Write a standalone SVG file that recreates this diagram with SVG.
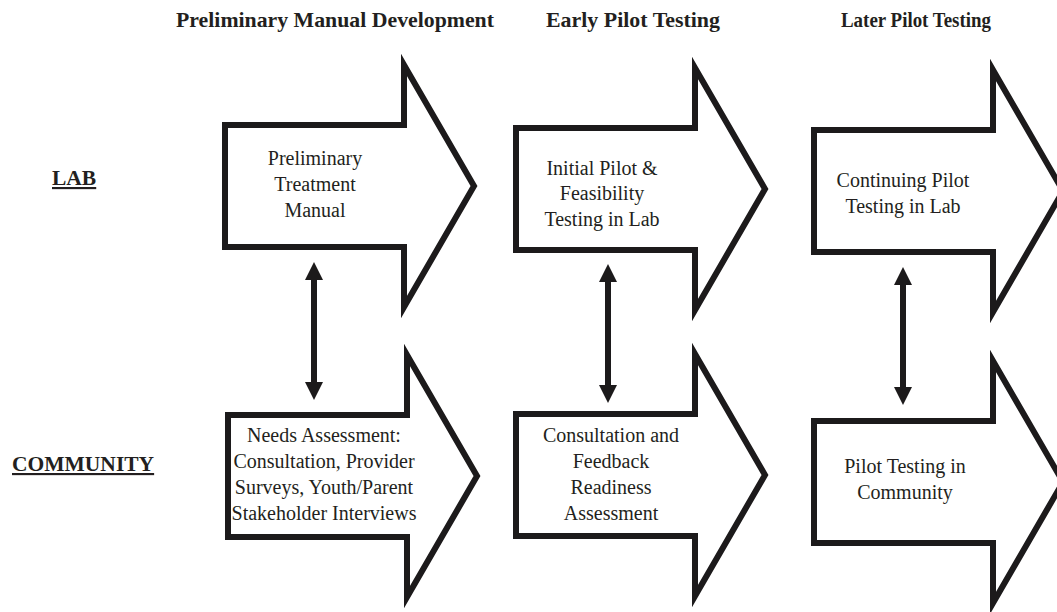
<svg xmlns="http://www.w3.org/2000/svg" width="1057" height="612" viewBox="0 0 1057 612">
<defs>
<style>
.bg{fill:#ffffff}
.arrow{fill:#ffffff;stroke:#1c1a1b;stroke-width:6;stroke-linejoin:miter;stroke-miterlimit:20}
.head{font-family:"Liberation Serif","Times New Roman",serif;font-weight:bold;font-size:22px;fill:#231f20;text-anchor:middle}
.row{font-family:"Liberation Serif","Times New Roman",serif;font-weight:bold;font-size:21.5px;fill:#231f20;text-decoration:underline}
.lbl{font-family:"Liberation Serif","Times New Roman",serif;font-size:20px;fill:#231f20;text-anchor:middle}
.conn{stroke:#1c1a1b;stroke-width:6;fill:none}
</style>
<path id="bigArrow" d="M0,-61 L179,-61 L179,-121 L249,0 L179,121 L179,61 L0,61 Z"/>
<marker id="tip" viewBox="0 0 18 18" refX="3" refY="9" markerWidth="18" markerHeight="18" markerUnits="userSpaceOnUse" orient="auto-start-reverse">
<path d="M0,0 L18,9 L0,18 Z" fill="#1c1a1b"/>
</marker>
</defs>
<rect class="bg" x="0" y="0" width="1057" height="612"/>

<g id="headings">
<text class="head" x="335" y="27" textLength="318" lengthAdjust="spacingAndGlyphs">Preliminary Manual Development</text>
<text class="head" x="633" y="27" textLength="174" lengthAdjust="spacingAndGlyphs">Early Pilot Testing</text>
<text class="head" x="916" y="27" textLength="150" lengthAdjust="spacingAndGlyphs">Later Pilot Testing</text>
</g>

<g id="row-labels">
<text class="row" x="52" y="185">LAB</text>
<text class="row" x="12" y="471">COMMUNITY</text>
</g>

<g id="node-prelim-manual">
<use href="#bigArrow" class="arrow" transform="translate(225,186)"/>
<text class="lbl"><tspan x="315" y="165">Preliminary</tspan><tspan x="315" y="191">Treatment</tspan><tspan x="315" y="217">Manual</tspan></text>
</g>

<g id="node-needs-assessment">
<use href="#bigArrow" class="arrow" transform="translate(228,476)"/>
<text class="lbl"><tspan x="324" y="442">Needs Assessment:</tspan><tspan x="324" y="468">Consultation, Provider</tspan><tspan x="324" y="494">Surveys, Youth/Parent</tspan><tspan x="324" y="520">Stakeholder Interviews</tspan></text>
</g>

<g id="node-initial-pilot">
<use href="#bigArrow" class="arrow" transform="translate(516,189)"/>
<text class="lbl"><tspan x="602" y="175">Initial Pilot &amp;</tspan><tspan x="602" y="200">Feasibility</tspan><tspan x="602" y="226">Testing in Lab</tspan></text>
</g>

<g id="node-consultation">
<use href="#bigArrow" class="arrow" transform="translate(516,475)"/>
<text class="lbl"><tspan x="611" y="442">Consultation and</tspan><tspan x="611" y="468">Feedback</tspan><tspan x="611" y="494">Readiness</tspan><tspan x="611" y="520">Assessment</tspan></text>
</g>

<g id="node-continuing-pilot">
<use href="#bigArrow" class="arrow" transform="translate(814,191)"/>
<text class="lbl"><tspan x="903" y="187">Continuing Pilot</tspan><tspan x="903" y="213">Testing in Lab</tspan></text>
</g>

<g id="node-pilot-community">
<use href="#bigArrow" class="arrow" transform="translate(814,482)"/>
<text class="lbl"><tspan x="905" y="473">Pilot Testing in</tspan><tspan x="905" y="499">Community</tspan></text>
</g>

<g id="connectors">
<line class="conn" x1="314" y1="277" x2="314" y2="385" marker-start="url(#tip)" marker-end="url(#tip)"/>
<line class="conn" x1="608" y1="279" x2="608" y2="388" marker-start="url(#tip)" marker-end="url(#tip)"/>
<line class="conn" x1="903" y1="282" x2="903" y2="390" marker-start="url(#tip)" marker-end="url(#tip)"/>
</g>
</svg>
